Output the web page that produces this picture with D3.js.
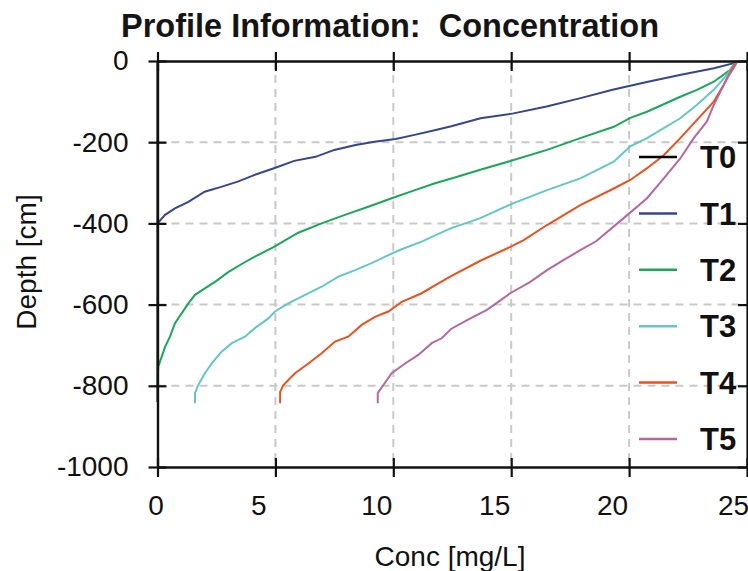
<!DOCTYPE html>
<html><head><meta charset="utf-8">
<script src="https://cdn.jsdelivr.net/npm/d3@7"></script>
<style>
html,body{margin:0;padding:0;background:#fff;}
svg{display:block;font-family:"Liberation Sans",Arial,sans-serif;}
</style></head>
<body><svg id="c" width="748" height="571"></svg>
<script>
const titleText = "Profile Information:  Concentration";
const xLabel = "Conc [mg/L]";
const yLabel = "Depth [cm]";
const xTicks = [0, 5, 10, 15, 20, 25];
const yTicks = [0, -200, -400, -600, -800, -1000];
const seriesNames = ["T0", "T1", "T2", "T3", "T4", "T5"];
const seriesColors = ["#000000", "#35468c", "#1aa757", "#63c6c8", "#e8521f", "#b6679f"];

// [conc, depth] pairs
const T0 = [[0, 0], [0, -840]];
const T1 = [[0,-400],[0.32,-379],[0.74,-363],[1.31,-347],[2.0,-322],[2.7,-310],[3.4,-297],[4.1,-281],[5.0,-263],[5.8,-246],[6.7,-236],[7.5,-219],[8.4,-207],[9.2,-199],[10.1,-192],[10.9,-182],[11.8,-170],[12.5,-160],[13.7,-141],[15.1,-129],[16.5,-112],[17.9,-92],[19.3,-71],[20.8,-51],[22.2,-34],[23.6,-18],[24.4,-6],[24.55,0]];
const T2 = [[0,-800],[0.03,-753],[0.18,-728],[0.32,-704],[0.53,-679],[0.74,-646],[1.03,-621],[1.31,-597],[1.59,-576],[2.01,-560],[2.44,-544],[3.0,-520],[3.57,-500],[4.13,-482],[4.9,-459],[5.97,-423],[6.96,-400],[7.95,-379],[8.94,-359],[9.93,-338],[10.92,-318],[11.77,-301],[12.5,-289],[13.69,-268],[15.1,-244],[16.52,-219],[17.93,-190],[19.35,-162],[20.05,-140],[20.76,-125],[22.17,-88],[22.88,-71],[23.59,-51],[24.29,-22],[24.55,0]];
const T3 = [[1.59,-843],[1.59,-818],[1.73,-798],[2.01,-769],[2.3,-745],[2.72,-716],[3.15,-695],[3.71,-679],[4.13,-658],[4.7,-634],[4.98,-617],[5.55,-597],[6.26,-576],[6.96,-556],[7.67,-531],[8.38,-515],[9.08,-498],[9.79,-478],[10.3,-465],[11.2,-445],[12.4,-413],[13.69,-387],[15.1,-350],[16.52,-318],[17.93,-289],[19.35,-248],[20.05,-210],[20.76,-190],[22.17,-141],[22.88,-108],[23.59,-71],[24.15,-34],[24.43,-10],[24.55,0]];
const T4 = [[5.2,-843],[5.2,-815],[5.34,-798],[5.83,-769],[6.4,-745],[6.96,-720],[7.53,-691],[8.09,-679],[8.66,-650],[9.22,-630],[9.79,-617],[10.36,-593],[11.2,-572],[11.91,-548],[12.45,-530],[13.69,-492],[14.96,-458],[15.53,-441],[16.52,-404],[17.93,-355],[19.35,-314],[20.05,-293],[20.76,-264],[21.47,-232],[22.17,-190],[22.88,-145],[23.59,-100],[24.01,-59],[24.3,-26],[24.45,-10],[24.55,0]];
const T5 = [[9.34,-843],[9.34,-818],[9.58,-798],[9.93,-769],[10.5,-745],[11.06,-724],[11.63,-695],[12.05,-683],[12.45,-660],[13.13,-638],[13.97,-613],[14.96,-572],[15.81,-544],[16.52,-515],[17.23,-490],[17.93,-466],[18.6,-444],[19.77,-387],[20.76,-338],[21.47,-289],[22.17,-240],[22.74,-190],[23.3,-149],[23.59,-108],[23.87,-76],[24.15,-43],[24.43,-18],[24.6,0]];
const seriesData = [T0, T1, T2, T3, T4, T5];

const svg = d3.select("#c");
const x = d3.scaleLinear().domain([0, 25]).range([157.5, 747]);
const y = d3.scaleLinear().domain([-1000, 0]).range([467, 61]);

// grid
const grid = svg.append("g").attr("stroke", "#c9c9c9").attr("stroke-width", 2).attr("stroke-dasharray", "8,6");
grid.selectAll("line.v").data(xTicks.filter(d => d > 0 && d < 25)).join("line")
  .attr("class","v")
  .attr("x1", d => x(d)).attr("x2", d => x(d)).attr("y1", y(0)).attr("y2", y(-1000));
grid.selectAll("line.h").data(yTicks.filter(d => d < 0 && d > -1000)).join("line")
  .attr("class","h")
  .attr("y1", d => y(d)).attr("y2", d => y(d)).attr("x1", x(0)).attr("x2", x(25));

// curves
const line = d3.line().x(d => x(d[0])).y(d => y(d[1]));
svg.append("g").selectAll("path").data(seriesData).join("path")
  .attr("d", d => line(d)).attr("fill", "none")
  .attr("stroke", (d, i) => seriesColors[i]).attr("stroke-width", 2);

// axes
const fmt = d => String(d);
function styleAxis(g) {
  g.select(".domain").attr("stroke", "#111").attr("stroke-width", 2.2);
  g.selectAll(".tick line").attr("stroke", "#111").attr("stroke-width", 2.2);
  g.selectAll(".tick text").attr("fill", "#111").style("font-size", "28px").style("font-family", '"Liberation Sans",Arial,sans-serif');
}
const ax = svg.append("g").attr("transform", `translate(0,${y(-1000)})`)
  .call(d3.axisBottom(x).tickValues(xTicks).tickFormat(fmt).tickSize(10).tickPadding(18).tickSizeOuter(0));
styleAxis(ax);
ax.selectAll(".tick text").attr("dx", d => d === 0 ? -2 : (d === 25 ? -14 : -17));
const ax2 = svg.append("g").attr("transform", `translate(0,${y(-1000)})`)
  .call(d3.axisTop(x).tickValues(xTicks).tickSize(9).tickFormat("").tickSizeOuter(0));
styleAxis(ax2);
const axTop = svg.append("g").attr("transform", `translate(0,${y(0)})`)
  .call(d3.axisTop(x).tickValues(xTicks).tickSize(9).tickFormat("").tickSizeOuter(0));
styleAxis(axTop);
const axTop2 = svg.append("g").attr("transform", `translate(0,${y(0)})`)
  .call(d3.axisBottom(x).tickValues(xTicks).tickSize(10).tickFormat("").tickSizeOuter(0));
styleAxis(axTop2);

const ay = svg.append("g").attr("transform", `translate(${x(0)},0)`)
  .call(d3.axisLeft(y).tickValues(yTicks).tickFormat(fmt).tickSize(9).tickPadding(20).tickSizeOuter(0));
styleAxis(ay);
const ay2 = svg.append("g").attr("transform", `translate(${x(0)},0)`)
  .call(d3.axisRight(y).tickValues(yTicks).tickSize(9).tickFormat("").tickSizeOuter(0));
styleAxis(ay2);
const ayR = svg.append("g").attr("transform", `translate(${x(25)},0)`)
  .call(d3.axisLeft(y).tickValues(yTicks).tickSize(9).tickFormat("").tickSizeOuter(0));
styleAxis(ayR);

// legend
const leg = svg.append("g");
const legY = i => 157 + i * 56.4;
seriesNames.forEach((n, i) => {
  leg.append("line").attr("x1", 639).attr("x2", 677).attr("y1", legY(i)).attr("y2", legY(i))
    .attr("stroke", seriesColors[i]).attr("stroke-width", 2.5);
  leg.append("text").attr("x", 700).attr("y", legY(i)).attr("dy", "0.36em")
    .attr("font-weight", "bold").attr("font-size", 31).attr("fill", "#111").text(n);
});

// titles
svg.append("text").attr("x", 390).attr("y", 37).attr("text-anchor", "middle")
  .attr("xml:space", "preserve").style("white-space", "pre")
  .attr("font-weight", "bold").attr("font-size", 32.5).attr("fill", "#151515").text(titleText);
svg.append("text").attr("x", 450).attr("y", 566).attr("text-anchor", "middle")
  .attr("font-size", 28).attr("fill", "#111").text(xLabel);
svg.append("text").attr("transform", "translate(36,262) rotate(-90)").attr("text-anchor", "middle")
  .attr("font-size", 28).attr("fill", "#111").text(yLabel);
</script></body></html>
